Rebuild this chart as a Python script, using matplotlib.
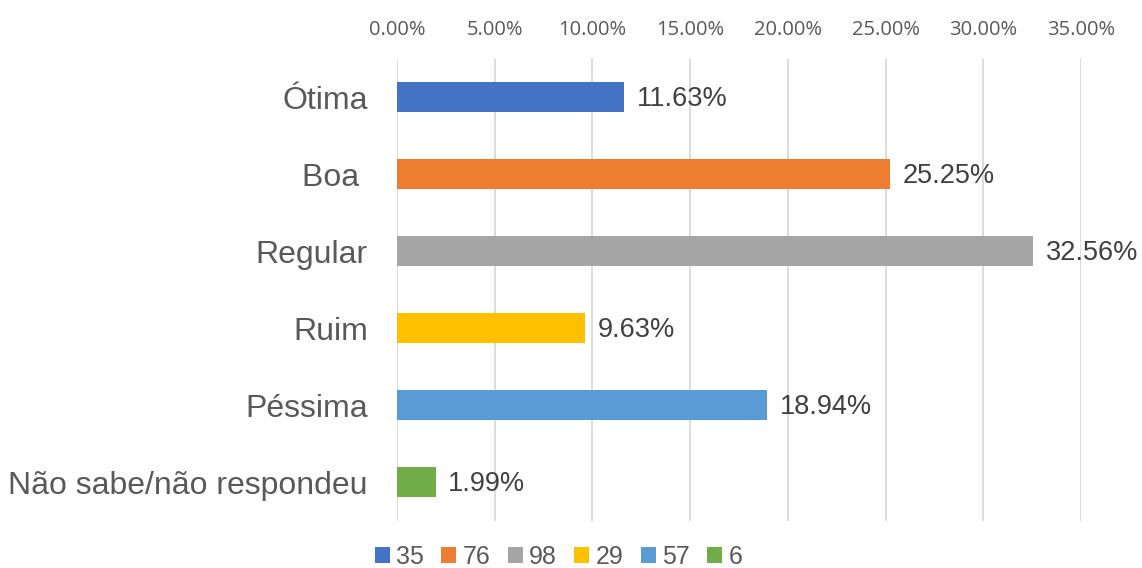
import numpy as np
import matplotlib
matplotlib.use("Agg")
import matplotlib.pyplot as plt
from matplotlib.patches import Patch
from matplotlib.ticker import FuncFormatter

plt.rc("font", family=["Liberation Sans", "DejaVu Sans"])

categories = ["Ótima", "Boa ", "Regular", "Ruim", "Péssima", "Não sabe/não respondeu"]
percents = [11.63, 25.25, 32.56, 9.63, 18.94, 1.99]
counts = ["35", "76", "98", "29", "57", "6"]
colors = ["#4472C4", "#ED7D31", "#A5A5A5", "#FFC000", "#5B9BD5", "#70AD47"]

fig = plt.figure(figsize=(11.42, 5.68), dpi=100)
ax = fig.add_axes([0.3476, 0.0836, 0.5990, 0.8134])

y = np.arange(len(categories))
ax.barh(y, percents, height=0.4, color=colors, zorder=3)

for yi, v in zip(y, percents):
    ax.annotate(f"{v:.2f}%", (v, yi), xytext=(9, -1.5), textcoords="offset points",
                va="center", ha="left", fontsize=19.5, color="#404040", zorder=4)

ax.set_xlim(0, 35)
ax.set_ylim(len(categories) - 0.5, -0.5)
ax.set_xticks(np.arange(0, 36, 5))
ax.xaxis.set_major_formatter(FuncFormatter(lambda v, p: f"{v:.2f}%"))
ax.xaxis.tick_top()
ax.tick_params(axis="x", length=0, pad=13, labelsize=14.5, labelcolor="#595959")
ax.set_yticks(y)
ax.set_yticklabels(categories)
ax.tick_params(axis="y", length=0, pad=21, labelsize=23, labelcolor="#595959")
for lbl in ax.get_xticklabels():
    lbl.set_family(["Open Sans", "DejaVu Sans"])
ax.grid(axis="x", color="#D9D9D9", linewidth=1.3, zorder=0)
for s in ax.spines.values():
    s.set_visible(False)

handles = [Patch(facecolor=c, label=n) for c, n in zip(colors, counts)]
fig.legend(handles=handles, loc="center", bbox_to_anchor=(0.489, 0.02), ncol=6,
           frameon=False, fontsize=18, handlelength=0.6, handleheight=0.6,
           handletextpad=0.25, columnspacing=0.7, labelcolor="#595959")

fig.savefig("out.png", dpi=100)
